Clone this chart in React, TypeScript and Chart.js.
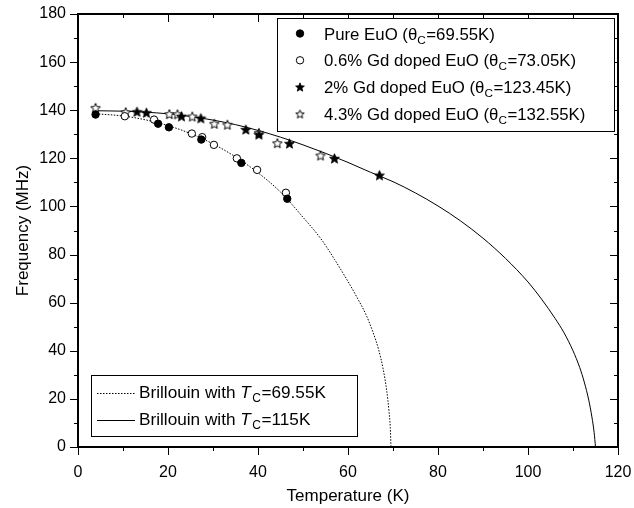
import { useEffect, useRef } from 'react';
import { Chart, registerables } from 'chart.js';

Chart.register(...registerables);

const FONT = '"Liberation Sans", Arial, Helvetica, sans-serif';

// Measured data (Temperature K, Frequency MHz)
const tempPure = [3.9, 17.8, 20.2, 27.4, 36.3, 46.5];
const freqPure = [138.2, 134.4, 132.9, 127.8, 118.1, 103.2];

const temp06 = [10.4, 16.9, 25.3, 27.6, 30.2, 35.3, 39.8, 46.2];
const freq06 = [137.5, 136.1, 130.3, 128.8, 125.6, 120.0, 115.2, 105.7];

const temp2 = [13.1, 15.2, 23.0, 27.3, 37.3, 40.2, 47.0, 57.0, 67.0];
const freq2 = [139.4, 139.0, 137.5, 136.7, 132.0, 129.9, 126.2, 120.0, 113.0];

const temp43 = [3.9, 10.6, 20.3, 22.1, 25.4, 30.3, 33.2, 40.2, 44.3, 53.9];
const freq43 = [141.0, 139.2, 138.4, 138.3, 137.4, 134.4, 134.0, 130.6, 126.3, 121.2];

// Brillouin curves
const tempB1 = [3.3, 10, 15, 20, 25, 30, 35, 40, 45, 50, 54, 57, 60, 62, 64, 65.5, 66.8, 67.8, 68.6, 69.1, 69.4, 69.55];
const freqB1 = [138.6, 137.6, 136.0, 133.6, 130.3, 126.0, 120.6, 114.0, 106.0, 95.5, 86.5, 78.0, 68.8, 62.2, 55.0, 48.0, 40.5, 32.5, 23.5, 15.0, 8.0, 0];

const tempB2 = [3.3, 10, 15, 20, 25, 30, 35, 40, 45, 50, 55, 60, 65, 70, 75, 80, 85, 90, 95, 100, 103, 106, 108, 110, 111.5, 112.5, 113.5, 114.2, 114.7, 115];
const freqB2 = [139.8, 139.6, 139.2, 138.5, 137.4, 135.9, 134.0, 131.6, 128.8, 125.6, 122.1, 118.3, 114.2, 110.3, 105.6, 100.2, 94.0, 86.8, 78.4, 68.6, 61.5, 53.5, 47.5, 40.0, 33.0, 27.0, 19.5, 12.5, 6.0, 0];

// Legend text
const seriesNames = ['Pure EuO (θ', '0.6% Gd doped EuO (θ', '2% Gd doped EuO (θ', '4.3% Gd doped EuO (θ'];
const seriesTheta = ['=69.55K)', '=73.05K)', '=123.45K)', '=132.55K)'];
const curveNames = ['Brillouin with ', 'Brillouin with '];
const curveTc = ['=69.55K', '=115K'];

const xTicks = [0, 20, 40, 60, 80, 100, 120];
const yTicks = [0, 20, 40, 60, 80, 100, 120, 140, 160, 180];

function makeStar(R: number, filled: boolean): HTMLCanvasElement {
  const size = Math.ceil(R * 2 + 4);
  const c = document.createElement('canvas');
  c.width = size;
  c.height = size;
  const ctx = c.getContext('2d')!;
  const cx = size / 2;
  const cy = size / 2 + R * 0.1;
  ctx.beginPath();
  for (let i = 0; i < 10; i++) {
    const r = i % 2 === 0 ? R : R * 0.45;
    const a = -Math.PI / 2 + (i * Math.PI) / 5;
    const px = cx + r * Math.cos(a);
    const py = cy + r * Math.sin(a);
    if (i === 0) ctx.moveTo(px, py);
    else ctx.lineTo(px, py);
  }
  ctx.closePath();
  if (filled) {
    ctx.fillStyle = '#000';
    ctx.fill();
    ctx.strokeStyle = '#000';
    ctx.lineWidth = 0.8;
    ctx.stroke();
  } else {
    ctx.fillStyle = '#fff';
    ctx.fill();
    ctx.strokeStyle = '#000';
    ctx.lineWidth = 1;
    ctx.stroke();
  }
  return c;
}

const toPts = (xs: number[], ys: number[]) => xs.map((x, i) => ({ x, y: ys[i] }));

export default function App() {
  const ref = useRef<HTMLCanvasElement>(null);

  useEffect(() => {
    const starFilled = makeStar(5.2, true);
    const starOpen = makeStar(5.0, false);
    const lStarFilled = makeStar(4.6, true);
    const lStarOpen = makeStar(4.4, false);

    const drawRich = (ctx: CanvasRenderingContext2D, parts: { t: string; sub?: boolean; it?: boolean }[], x: number, y: number, size: number) => {
      let cx = x;
      for (const p of parts) {
        const fs = p.sub ? size * 0.7 : size;
        ctx.font = `${p.it ? 'italic ' : ''}${fs}px ${FONT}`;
        ctx.fillText(p.t, cx, p.sub ? y + 4 : y);
        cx += ctx.measureText(p.t).width + (p.it ? 1.5 : 0) + (p.sub ? 0.5 : 0);
      }
    };

    const framePlugin = {
      id: 'framePlugin',
      afterDraw(chart: any) {
        const { ctx, chartArea: a, scales } = chart;
        const sx = scales.x;
        const sy = scales.y;
        const L = Math.round(a.left);
        const R = Math.round(a.right);
        const T = Math.round(a.top);
        const B = Math.round(a.bottom);
        ctx.save();
        ctx.strokeStyle = '#000';
        ctx.lineWidth = 1;
        ctx.beginPath();
        for (let i = 0; i < xTicks.length; i++) {
          const vals = [xTicks[i]];
          if (i < xTicks.length - 1) vals.push((xTicks[i] + xTicks[i + 1]) / 2);
          vals.forEach((v, k) => {
            const len = k === 0 ? 8 : 4;
            const px = Math.round(sx.getPixelForValue(v)) + 0.5;
            ctx.moveTo(px, B);
            ctx.lineTo(px, B + len);
            ctx.moveTo(px, T);
            ctx.lineTo(px, T + len);
          });
        }
        for (let i = 0; i < yTicks.length; i++) {
          const vals = [yTicks[i]];
          if (i < yTicks.length - 1) vals.push((yTicks[i] + yTicks[i + 1]) / 2);
          vals.forEach((v, k) => {
            const len = k === 0 ? 8 : 4;
            const py = Math.round(sy.getPixelForValue(v)) + 0.5;
            ctx.moveTo(L - len, py);
            ctx.lineTo(L, py);
            ctx.moveTo(R - len, py);
            ctx.lineTo(R, py);
          });
        }
        ctx.stroke();
        ctx.lineWidth = 2;
        ctx.strokeRect(L, T, R - L, B - T);

        // Legend 1 (series)
        ctx.lineWidth = 1;
        ctx.fillStyle = '#fff';
        ctx.fillRect(277.5, 18.5, 337, 113);
        ctx.strokeRect(277.5, 18.5, 337, 113);
        ctx.fillStyle = '#000';
        ctx.textBaseline = 'alphabetic';
        ctx.textAlign = 'left';
        const rowsY = [39.5, 66.3, 93, 120];
        for (let i = 0; i < 4; i++) {
          const my = rowsY[i] - 6;
          if (i === 0 || i === 1) {
            ctx.beginPath();
            ctx.arc(300, my, 3.7, 0, Math.PI * 2);
            ctx.fillStyle = i === 0 ? '#000' : '#fff';
            ctx.fill();
            ctx.strokeStyle = '#000';
            ctx.stroke();
          } else {
            const img = i === 2 ? lStarFilled : lStarOpen;
            ctx.drawImage(img, 300 - img.width / 2, my - img.height / 2);
          }
          ctx.fillStyle = '#000';
          drawRich(ctx, [{ t: seriesNames[i] }, { t: 'C', sub: true }, { t: seriesTheta[i] }], 324, rowsY[i], 16.8);
        }

        // Legend 2 (curves)
        ctx.fillStyle = '#fff';
        ctx.fillRect(91.5, 375.5, 266, 61);
        ctx.strokeStyle = '#000';
        ctx.strokeRect(91.5, 375.5, 266, 61);
        const cRows = [398, 424.5];
        for (let i = 0; i < 2; i++) {
          ctx.beginPath();
          ctx.setLineDash(i === 0 ? [1.5, 1.5] : []);
          ctx.moveTo(97, Math.round(cRows[i] - 5) + 0.5);
          ctx.lineTo(135, Math.round(cRows[i] - 5) + 0.5);
          ctx.stroke();
          ctx.setLineDash([]);
          ctx.fillStyle = '#000';
          drawRich(ctx, [{ t: curveNames[i] }, { t: 'T', it: true }, { t: 'C', sub: true }, { t: curveTc[i] }], 139, cRows[i], 17.2);
        }
        ctx.restore();
      },
    };

    const chart = new Chart(ref.current!, {
      type: 'scatter',
      data: {
        datasets: [
          {
            label: 'Pure EuO',
            data: toPts(tempPure, freqPure),
            pointStyle: 'circle',
            pointRadius: 3.7,
            backgroundColor: '#000',
            borderColor: '#000',
            borderWidth: 1,
            order: 1,
          },
          {
            label: '0.6% Gd doped EuO',
            data: toPts(temp06, freq06),
            pointStyle: 'circle',
            pointRadius: 3.7,
            backgroundColor: '#fff',
            borderColor: '#000',
            borderWidth: 1,
            order: 1,
          },
          {
            label: '2% Gd doped EuO',
            data: toPts(temp2, freq2),
            pointStyle: starFilled as any,
            pointRadius: 5,
            backgroundColor: '#000',
            borderColor: '#000',
            order: 1,
          },
          {
            label: '4.3% Gd doped EuO',
            data: toPts(temp43, freq43),
            pointStyle: starOpen as any,
            pointRadius: 5,
            backgroundColor: '#fff',
            borderColor: '#000',
            order: 1,
          },
          {
            label: 'Brillouin Tc=69.55K',
            data: toPts(tempB1, freqB1),
            showLine: true,
            pointRadius: 0,
            borderColor: '#000',
            borderWidth: 1,
            borderDash: [1.5, 1.5],
            cubicInterpolationMode: 'monotone',
            order: 2,
          },
          {
            label: 'Brillouin Tc=115K',
            data: toPts(tempB2, freqB2),
            showLine: true,
            pointRadius: 0,
            borderColor: '#000',
            borderWidth: 1,
            cubicInterpolationMode: 'monotone',
            order: 2,
          },
        ] as any,
      },
      options: {
        animation: false,
        responsive: true,
        maintainAspectRatio: false,
        layout: { padding: { top: 14, right: 16, left: 0, bottom: 0 } },
        plugins: { legend: { display: false }, tooltip: { enabled: false } },
        scales: {
          x: {
            type: 'linear',
            min: 0,
            max: 120,
            ticks: { stepSize: 20, color: '#000', font: { family: FONT, size: 16 }, padding: 8, maxRotation: 0 },
            grid: { display: false },
            border: { display: false },
            title: { display: true, text: 'Temperature (K)', color: '#000', font: { family: FONT, size: 17 }, padding: { top: 0, bottom: 1 } },
            afterFit: (s: any) => {
              s.height = 61;
              s.paddingLeft = 0;
              s.paddingRight = 0;
            },
          },
          y: {
            type: 'linear',
            min: 0,
            max: 180,
            ticks: { stepSize: 20, color: '#000', font: { family: FONT, size: 16 }, padding: 4 },
            grid: { display: false },
            border: { display: false },
            title: { display: true, text: 'Frequency (MHz)', color: '#000', font: { family: FONT, size: 17 }, padding: { top: 13, bottom: 0 } },
            afterFit: (s: any) => {
              s.width = 78;
              s.paddingTop = 0;
              s.paddingBottom = 0;
            },
          },
        },
      } as any,
      plugins: [framePlugin],
    });
    return () => chart.destroy();
  }, []);

  return (
    <div style={{ position: 'fixed', left: 0, top: 0, width: 634, height: 508, background: '#fff' }}>
      <canvas ref={ref} />
    </div>
  );
}
